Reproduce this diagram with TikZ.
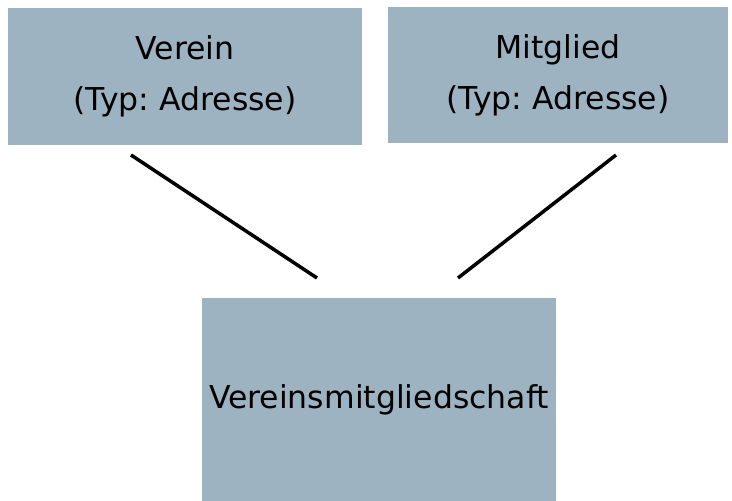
\documentclass[tikz,border=0pt]{standalone}
\usepackage{fontspec}
\setmainfont{DejaVu Sans}
\frenchspacing
\definecolor{boxblue}{HTML}{9DB3C2}
\tikzset{
  entity/.style={fill=boxblue, inner sep=0pt, align=center,
    font=\fontsize{31.5}{53}\selectfont},
  link/.style={line width=3.5pt, black}
}
\begin{document}
\begin{tikzpicture}[x=1pt,y=1pt]
  \useasboundingbox (0,0) rectangle (732,501);

  \node[entity, minimum width=354pt, minimum height=137pt] (verein) at (185,424.5)
    {\raisebox{-2pt}{Verein}\\(Typ: Adresse)};
  \node[entity, minimum width=340pt, minimum height=136pt] (mitglied) at (558,426)
    {\raisebox{-2pt}{Mitglied}\\(Typ: Adresse)};
  \node[entity, minimum width=354pt, minimum height=203pt] (vm) at (379,101.5)
    {\raisebox{-6pt}{Vereinsmitgliedschaft}};

  % connector ends
  \coordinate (v1) at (131,346);
  \coordinate (v2) at (317,223);
  \coordinate (m1) at (616,346);
  \coordinate (m2) at (458,223);

  \draw[link] (v1) -- (v2);
  \draw[link] (m1) -- (m2);
\end{tikzpicture}
\end{document}
